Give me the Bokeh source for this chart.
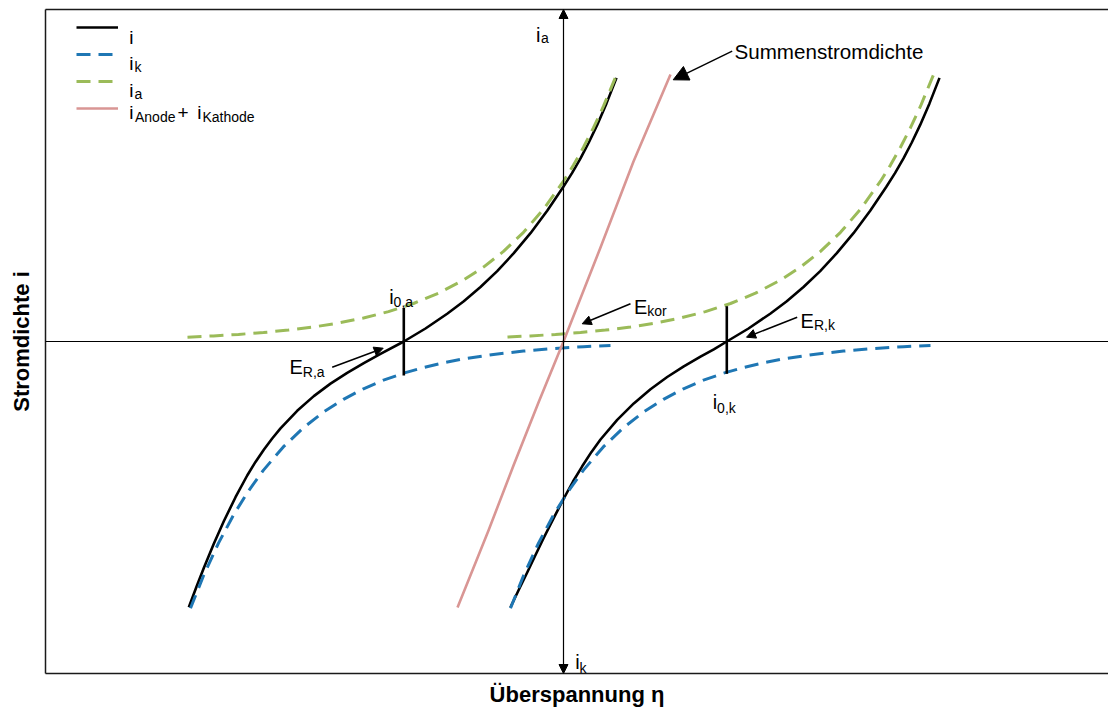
from bokeh.plotting import figure
from bokeh.models import (Range1d, LinearAxis, FixedTicker, Span, Arrow, NormalHead,
                          Legend, LegendItem, ColumnDataSource)
from bokeh.core.properties import value
from bokeh.embed import file_html
from bokeh.resources import INLINE

# ---------------- data (overpotential eta, current density i; arbitrary units) -------------
# left redox couple (equilibrium E_R,a)
eta_a_green = [-3.76, -3.5, -3.25, -3.0, -2.75, -2.5, -2.25, -2.0, -1.75, -1.5, -1.25, -1.0,
               -0.8, -0.6, -0.4, -0.2, 0.0, 0.1, 0.2, 0.3, 0.4, 0.53]
ia_a = [0.043, 0.056, 0.071, 0.090, 0.114, 0.145, 0.185, 0.235, 0.299, 0.380, 0.483, 0.614,
        0.744, 0.901, 1.092, 1.323, 1.603, 1.764, 1.942, 2.138, 2.353, 2.666]
eta_a_blue = [-3.73, -3.6, -3.45, -3.3, -3.15, -3.0, -2.8, -2.6, -2.4, -2.2, -2.0, -1.8, -1.6,
              -1.4, -1.2, -1.0, -0.7, -0.4, -0.1, 0.2, 0.47]
ik_a = [-2.668, -2.342, -2.016, -1.735, -1.494, -1.286, -1.052, -0.862, -0.706, -0.578, -0.473,
        -0.387, -0.317, -0.260, -0.213, -0.174, -0.129, -0.096, -0.071, -0.052, -0.040]
eta_a_net = [-3.747, -3.672, -3.597, -3.497, -3.397, -3.28, -3.163, -3.08, -2.997, -2.913,
             -2.83, -2.663, -2.497, -2.33, -2.163, -1.997, -1.83, -1.597, -1.38, -1.163,
             -0.997, -0.83, -0.663, -0.497, -0.33, -0.163, -0.003, 0.085, 0.17, 0.253, 0.337,
             0.43, 0.53]
i_a_net = [-2.657, -2.457, -2.265, -2.023, -1.798, -1.557, -1.34, -1.204, -1.082, -0.97,
           -0.869, -0.693, -0.546, -0.421, -0.313, -0.216, -0.124, 0.0, 0.13, 0.278, 0.403,
           0.545, 0.704, 0.883, 1.083, 1.308, 1.545, 1.684, 1.831, 1.99, 2.166, 2.381, 2.636]

# right redox couple (equilibrium E_R,k)
eta_k_green = [-0.56, -0.33, -0.08, 0.17, 0.42, 0.67, 0.92, 1.17, 1.42, 1.67, 1.92, 2.17,
               2.37, 2.57, 2.77, 2.97, 3.17, 3.27, 3.37, 3.47, 3.57, 3.71]
ia_k = [0.045, 0.056, 0.071, 0.090, 0.114, 0.145, 0.185, 0.235, 0.299, 0.380, 0.483, 0.614,
        0.744, 0.901, 1.092, 1.323, 1.603, 1.764, 1.942, 2.138, 2.353, 2.692]
eta_k_blue = [-0.53, -0.4, -0.25, -0.1, 0.05, 0.2, 0.4, 0.6, 0.8, 1.0, 1.2, 1.4, 1.6, 1.8,
              2.0, 2.2, 2.5, 2.8, 3.1, 3.4, 3.67]
ik_k = [-2.668, -2.342, -2.016, -1.735, -1.494, -1.286, -1.052, -0.862, -0.706, -0.578, -0.473,
        -0.387, -0.317, -0.260, -0.213, -0.174, -0.129, -0.096, -0.071, -0.052, -0.040]
eta_k_net = [-0.53, -0.447, -0.363, -0.28, -0.197, -0.097, 0.003, 0.095, 0.187, 0.28, 0.37,
             0.537, 0.703, 0.87, 1.037, 1.203, 1.37, 1.503, 1.633, 1.85, 2.067, 2.233, 2.40,
             2.567, 2.733, 2.90, 3.067, 3.227, 3.315, 3.40, 3.483, 3.567, 3.66, 3.76]
i_k_net = [-2.657, -2.483, -2.31, -2.135, -1.963, -1.763, -1.57, -1.40, -1.248, -1.104, -0.98,
           -0.783, -0.619, -0.477, -0.355, -0.249, -0.152, -0.079, 0.0, 0.13, 0.278, 0.403,
           0.545, 0.704, 0.883, 1.083, 1.308, 1.545, 1.684, 1.831, 1.99, 2.166, 2.381, 2.636]

# sum current density (i_Anode + i_Kathode)
eta_sum = [-1.06, -0.75, -0.5, -0.25, 0.0, 0.37, 0.7, 1.07]
i_sum = [-2.66, -1.89, -1.24, -0.61, 0.0, 0.94, 1.80, 2.67]

# equilibrium potentials and exchange current density markers
E_R = [-1.597, 1.633]
i0_top = [0.337, 0.353]
i0_bot = [-0.34, -0.323]

# ---------------- styles ----------------
FONT = "Liberation Sans"
BLACK = "#000000"
BLUE = "#1f77b4"
GREEN = "#9bbb59"
PINK = "#d99694"
DASH = "14 8"

p = figure(width=1108, height=711,
           x_range=Range1d(-5.18, 5.45), y_range=Range1d(-3.32, 3.32),
           x_axis_type=None, y_axis_type=None,
           output_backend="svg", toolbar_location=None,
           min_border_left=45, min_border_right=0, min_border_top=9, min_border_bottom=38,
           outline_line_color=None, background_fill_color="white", border_fill_color="white")


def frame_axis(label=None, standoff=0):
    ax = LinearAxis(ticker=FixedTicker(ticks=[]), major_tick_out=0, major_tick_in=0,
                    minor_tick_out=0, minor_tick_in=0, major_label_standoff=0,
                    axis_line_color="#1a1a1a", axis_line_width=1.5)
    if label:
        ax.axis_label = label
        ax.axis_label_text_font = FONT
        ax.axis_label_text_font_style = "bold"
        ax.axis_label_text_font_size = "22px"
        ax.axis_label_text_color = "black"
        ax.axis_label_standoff = standoff
    return ax


p.add_layout(frame_axis("Überspannung η", 8), "below")
p.add_layout(frame_axis("Stromdichte i", 12), "left")
p.add_layout(frame_axis(), "above")

# coordinate axes through the origin
p.add_layout(Span(location=0, dimension="width", line_color="black", line_width=1.2))
p.add_layout(Arrow(start=NormalHead(size=9, fill_color="black", line_color="black"),
                   end=NormalHead(size=9, fill_color="black", line_color="black"),
                   x_start=0, y_start=-3.32, x_end=0, y_end=3.32,
                   line_color="black", line_width=1.2))

# curves
r_net_a = p.line(eta_a_net, i_a_net, line_color=BLACK, line_width=2.6, line_join="round")
r_net_k = p.line(eta_k_net, i_k_net, line_color=BLACK, line_width=2.6, line_join="round")
r_ik_a = p.line(eta_a_blue, ik_a, line_color=BLUE, line_width=3, line_dash=DASH)
r_ik_k = p.line(eta_k_blue, ik_k, line_color=BLUE, line_width=3, line_dash=DASH)
r_ia_a = p.line(eta_a_green, ia_a, line_color=GREEN, line_width=3, line_dash=DASH)
r_ia_k = p.line(eta_k_green, ia_k, line_color=GREEN, line_width=3, line_dash=DASH)
r_sum = p.line(eta_sum, i_sum, line_color=PINK, line_width=2.6, line_join="round")

# exchange current density markers
p.segment(x0=E_R, y0=i0_bot, x1=E_R, y1=i0_top, line_color="black", line_width=2.6)

# legend (line samples; the labels with subscripts are drawn as text below)
legend = Legend(items=[LegendItem(label=" ", renderers=[r_net_a]),
                       LegendItem(label=" ", renderers=[r_ik_a]),
                       LegendItem(label=" ", renderers=[r_ia_a]),
                       LegendItem(label=" ", renderers=[r_sum])],
                location=(31, 553), padding=0, margin=0, spacing=3,
                glyph_width=42, glyph_height=24, label_height=24, label_standoff=11,
                label_text_font=FONT, label_text_font_size="19px",
                border_line_color=None, background_fill_alpha=0)
p.add_layout(legend)


def texts(xs, ys, labels, size):
    src = ColumnDataSource(dict(x=xs, y=ys, text=labels))
    p.text(x="x", y="y", text="text", source=src, text_font=value(FONT),
           text_font_size=size, text_baseline="alphabetic", text_align="left",
           text_color="black")


# annotation texts
texts([-2.74, -1.743, 0.704, 2.371, 1.492, -0.276, 0.117],
      [-0.257, 0.45, 0.343, 0.21, -0.607, 3.07, -3.20],
      ["E", "i", "E", "E", "i", "i", "i"], "20px")
texts([1.71], [2.9], ["Summenstromdichte"], "20.6px")
texts([-4.343, -4.343, -4.343, -4.343, -3.86, -3.663],
      [3.043, 2.777, 2.51, 2.293, 2.293, 2.293],
      ["i", "i", "i", "i", "+", "i"], "19px")
texts([-2.607, -1.699, 0.837, 2.504, 1.536, -0.225, 0.161, -4.29, -4.29, -4.285, -3.61],
      [-0.307, 0.393, 0.303, 0.17, -0.66, 3.037, -3.26, 2.742, 2.475, 2.243, 2.243],
      ["R,a", "0,a", "kor", "R,k", "0,k", "a", "k", "k", "a", "Anode", "Kathode"], "14px")

# pointer arrows
for (xs, ys, xe, ye, sz) in [(-2.313, -0.257, -1.803, -0.067, 9),
                             (0.67, 0.377, 0.187, 0.177, 9),
                             (2.337, 0.243, 1.83, 0.043, 9),
                             (1.687, 2.903, 1.097, 2.617, 15)]:
    p.add_layout(Arrow(end=NormalHead(size=sz, fill_color="black", line_color="black"),
                       x_start=xs, y_start=ys, x_end=xe, y_end=ye,
                       line_color="black", line_width=1.5))

open("out.html", "w").write(file_html(p, INLINE))
